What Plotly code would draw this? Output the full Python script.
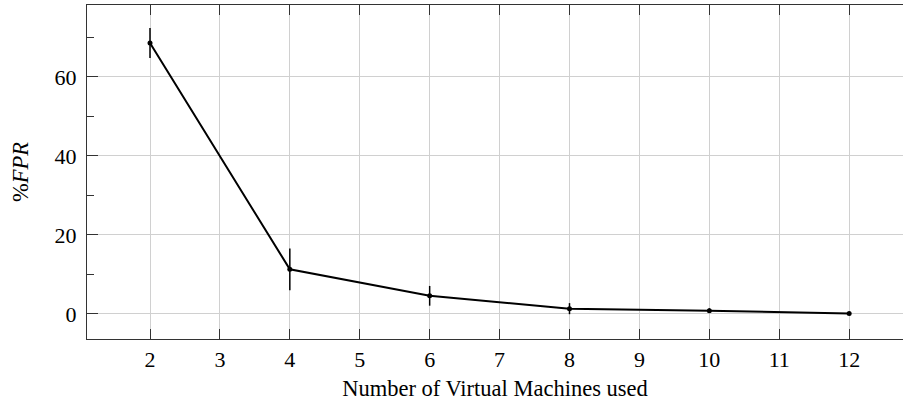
import plotly.graph_objects as go

vms = [2, 4, 6, 8, 10, 12]
fpr = [68.6, 11.3, 4.6, 1.35, 0.85, 0.1]
fpr_err = [3.8, 5.3, 2.5, 1.4, 0.6, 0.0]

x_ticks = list(range(2, 13))
y_ticks = [0, 20, 40, 60]

font_family = "Liberation Serif, DejaVu Serif, serif"

fig = go.Figure()
fig.add_trace(go.Scatter(
    x=vms, y=fpr, mode="lines+markers",
    line=dict(color="black", width=2),
    marker=dict(color="black", size=5),
    error_y=dict(type="data", array=fpr_err, visible=True, color="black", thickness=1.5, width=0),
    showlegend=False,
))

fig.update_layout(
    width=903, height=409,
    margin=dict(l=87, r=0, t=5, b=70),
    plot_bgcolor="white", paper_bgcolor="white",
    font=dict(family=font_family, size=23, color="black"),
)
fig.update_xaxes(
    range=[1.099, 12.77],
    tickmode="array", tickvals=x_ticks, ticktext=[str(v) for v in x_ticks],
    ticks="inside", ticklen=10, tickwidth=1.3, tickcolor="#333",
    tickfont=dict(size=22),
    showline=True, linecolor="#333", linewidth=1.3, mirror="ticks",
    showgrid=True, gridcolor="#d0d0d0", gridwidth=1,
    zeroline=False,
    title=dict(text="Number of Virtual Machines used", standoff=9, font=dict(size=22.5)),
)
fig.update_yaxes(
    range=[-6.33, 78.2],
    tickmode="array", tickvals=y_ticks, ticktext=[str(v) for v in y_ticks],
    ticks="inside", ticklen=11, tickwidth=1.3, tickcolor="#333",
    tickfont=dict(size=22), ticklabelstandoff=5,
    minor=dict(tickvals=[10, 30, 50, 70], ticks="inside", ticklen=7, tickwidth=1.3, tickcolor="#333", showgrid=False),
    showline=True, linecolor="#333", linewidth=1.3, mirror=False,
    showgrid=True, gridcolor="#d0d0d0", gridwidth=1,
    zeroline=False,
    title=dict(text="%<i>FPR</i>", standoff=19, font=dict(size=22.5)),
)

fig.write_html("out.html", config={"displayModeBar": False},
               post_script="document.body.style.margin='0';document.body.style.overflow='hidden';")
